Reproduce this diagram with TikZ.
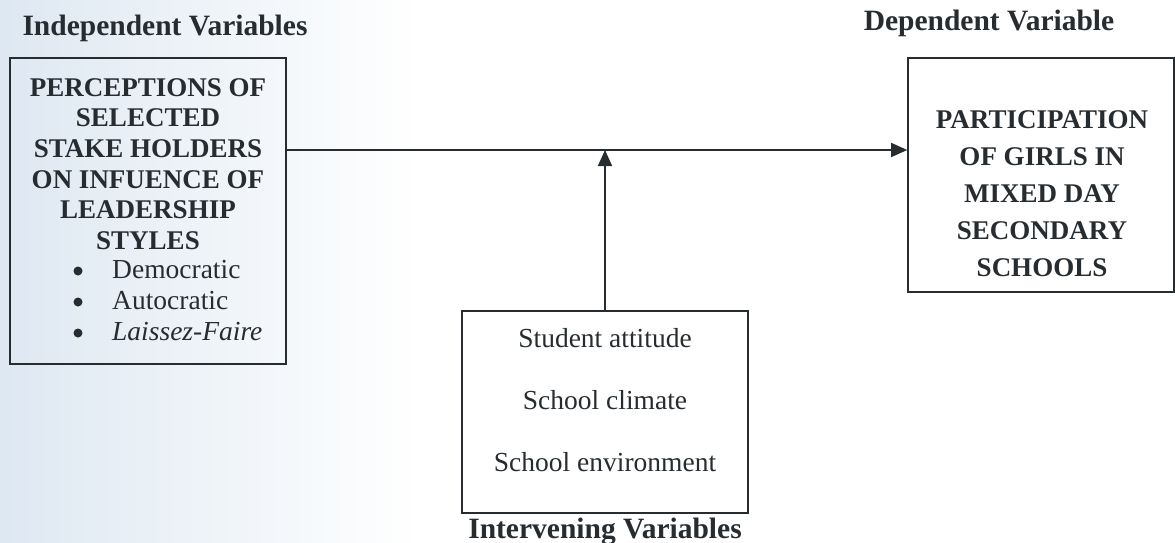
\documentclass[tikz,border=0pt]{standalone}
\usepackage{fontspec}
\setmainfont{Liberation Serif}
\usetikzlibrary{arrows.meta}
\definecolor{ink}{RGB}{38,44,48}
\definecolor{scanblue}{RGB}{222,232,242}
\begin{document}
\begin{tikzpicture}[x=1pt,y=-1pt,
  box/.style={draw=ink, line width=1.6pt, inner sep=0pt},
  txt/.style={text=ink, inner sep=0pt, align=center},
  big/.style={font=\fontsize{27.5}{30.6}\selectfont},
  bigb/.style={font=\fontsize{27}{30.6}\selectfont\bfseries},
  head/.style={font=\fontsize{29.5}{32}\selectfont\bfseries},
  rbig/.style={font=\fontsize{27}{37}\selectfont\bfseries},
  dot/.style={circle, fill=ink, inner sep=0pt, minimum size=9pt},
  conn/.style={draw=ink, line width=1.6pt},
  tip/.style={-{Triangle[length=16pt,width=14pt]}}]
\useasboundingbox (0,0) rectangle (1175,543);
\shade[left color=scanblue, right color=white, shading angle=90] (0,0) rectangle (420,543);
% titles
\node[txt,head] (tind) at (165,28) {Independent Variables};
\node[txt,head] (tdep) at (989,23) {Dependent Variable};
% left box
\node[box, minimum width=276pt, minimum height=306pt] (lbox) at (148,211) {};
\node[txt,bigb] (ltext) at (148,164) {PERCEPTIONS OF\\SELECTED\\STAKE HOLDERS\\ON INFUENCE OF\\LEADERSHIP\\STYLES};
\node[dot] (b1) at (78,271) {};
\node[dot] (b2) at (78,302) {};
\node[dot] (b3) at (78,333) {};
\node[txt,big,anchor=west] (d1) at (112,270) {Democratic};
\node[txt,big,anchor=west] (d2) at (112,301) {Autocratic};
\node[txt,big,anchor=west] (d3) at (112,332) {\itshape Laissez-Faire};
% right box
\node[box, minimum width=266pt, minimum height=234pt] (rbox) at (1041,175) {};
\node[txt,rbig] (rtext) at (1042,194) {PARTICIPATION\\OF GIRLS IN\\MIXED DAY\\SECONDARY\\SCHOOLS};
% bottom box
\node[box, minimum width=286pt, minimum height=202pt] (bbox) at (605,412) {};
\node[txt,big] (s1) at (605,338) {Student attitude};
\node[txt,big] (s2) at (605,400) {School climate};
\node[txt,big] (s3) at (605,462) {School environment};
\node[txt,head] (tint) at (605,532) {Intervening Variables};
% connectors
\draw[conn,tip] (lbox.east |- 0,150) -- (rbox.west |- 0,150);
\draw[conn,tip] (bbox.north) -- (bbox.north |- 0,150);
\end{tikzpicture}
\end{document}
